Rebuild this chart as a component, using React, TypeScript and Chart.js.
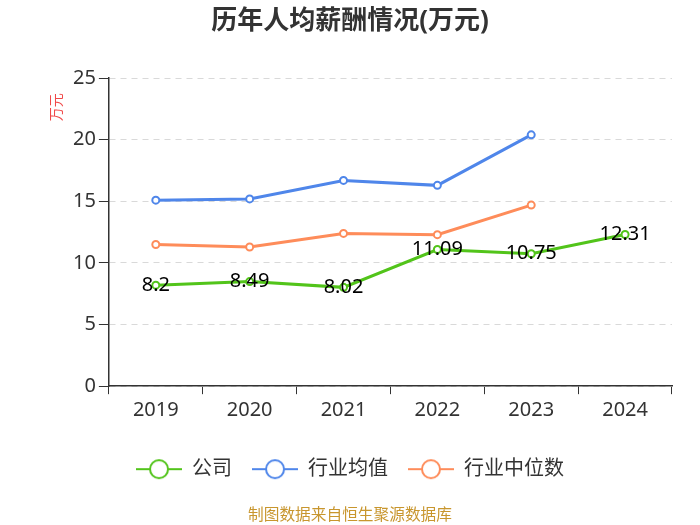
import React, { useEffect, useRef } from 'react';
import Chart from 'chart.js/auto';

const years = ['2019', '2020', '2021', '2022', '2023', '2024'];
const companyPay = [8.2, 8.49, 8.02, 11.09, 10.75, 12.31];
const industryMean = [15.1, 15.2, 16.7, 16.3, 20.4, null];
const industryMedian = [11.5, 11.3, 12.4, 12.3, 14.7, null];
const yTicks = [0, 5, 10, 15, 20, 25];

const FONT = '"Noto Sans", "Noto Sans CJK SC", sans-serif';

// legend marker: short line with hollow circle
const makeMarker = (color: string) => {
    const c = document.createElement('canvas');
    c.width = 46;
    c.height = 22;
    const ctx = c.getContext('2d')!;
    ctx.strokeStyle = color;
    ctx.lineWidth = 2;
    ctx.beginPath();
    ctx.moveTo(0, 11);
    ctx.lineTo(46, 11);
    ctx.stroke();
    ctx.beginPath();
    ctx.arc(23, 11, 9, 0, Math.PI * 2);
    ctx.fillStyle = '#fff';
    ctx.fill();
    ctx.stroke();
    return c;
};

// labels on the company series only, plus the unit label
const valueLabels = {
    id: 'valueLabels',
    afterDatasetsDraw(chart: any) {
        const meta = chart.getDatasetMeta(0);
        const ctx = chart.ctx;
        ctx.save();
        ctx.font = `20px ${FONT}`;
        ctx.fillStyle = '#000';
        ctx.textAlign = 'center';
        ctx.textBaseline = 'middle';
        meta.data.forEach((pt: any, i: number) => {
            ctx.fillText(String(companyPay[i]), pt.x, pt.y);
        });
        // unit title
        ctx.translate(chart.chartArea.left - 52, chart.chartArea.top + 29);
        ctx.rotate(-Math.PI / 2);
        ctx.font = `14px ${FONT}`;
        ctx.fillStyle = '#f04848';
        ctx.fillText('万元', 0, 0);
        ctx.restore();
    }
};

const App: React.FC = () => {
    const canvasRef = useRef<HTMLCanvasElement>(null);
    const chartRef = useRef<Chart>();

    useEffect(() => {
        if (!canvasRef.current) return;
        const ctx = canvasRef.current.getContext('2d');
        if (!ctx) return;
        if (chartRef.current) chartRef.current.destroy();

        const colors = ['#52c41a', '#4f86ea', '#fe8c5a'];

        chartRef.current = new Chart(ctx, {
            type: 'line',
            data: {
                labels: years,
                datasets: [
                    { label: '公司', data: companyPay },
                    { label: '行业均值', data: industryMean },
                    { label: '行业中位数', data: industryMedian }
                ].map((d, i) => ({
                    ...d,
                    borderColor: colors[i],
                    backgroundColor: colors[i],
                    borderWidth: 3,
                    pointRadius: 3.5,
                    pointBorderWidth: 2,
                    pointBackgroundColor: '#fff',
                    pointBorderColor: colors[i],
                    tension: 0
                }))
            },
            plugins: [valueLabels],
            options: {
                animation: false,
                responsive: false,
                layout: { padding: { left: 28, right: 28, top: 0, bottom: 0 } },
                scales: {
                    x: {
                        offset: true,
                        afterFit: (scale: any) => { scale.height += 13; },
                        grid: {
                            offset: true,
                            drawOnChartArea: false,
                            drawTicks: true,
                            tickLength: 8,
                            tickColor: '#333'
                        },
                        border: { color: '#333', width: 1.5 },
                        ticks: { color: '#333', font: { size: 20, family: FONT }, padding: 4 }
                    },
                    y: {
                        min: 0,
                        max: 25,
                        afterFit: (scale: any) => { scale.width += 42; },
                        afterBuildTicks: (axis: any) => {
                            axis.ticks = yTicks.map(v => ({ value: v }));
                        },
                        grid: {
                            color: '#d9d9d9',
                            tickColor: '#333',
                            tickLength: 10,
                            tickBorderDash: [],
                            lineWidth: 1
                        },
                        border: { color: '#333', width: 1.5, dash: [6, 5] },
                        ticks: { color: '#333', font: { size: 20, family: FONT }, padding: 3 }
                    }
                },
                plugins: {
                    title: {
                        display: true,
                        text: '历年人均薪酬情况(万元)',
                        color: '#333',
                        font: { size: 26, weight: 'bold', family: FONT },
                        padding: { top: 6, bottom: 41 }
                    },
                    subtitle: {
                        display: true,
                        position: 'bottom',
                        text: '制图数据来自恒生聚源数据库',
                        color: '#c8962e',
                        font: { size: 15.7, family: FONT },
                        padding: { top: 17, bottom: 0 }
                    },
                    legend: {
                        position: 'bottom',
                        labels: {
                            usePointStyle: true,
                            pointStyleWidth: 46,
                            color: '#333',
                            font: { size: 20, family: FONT },
                            padding: 20,
                            generateLabels: (chart: any) => {
                                const items = Chart.defaults.plugins.legend.labels.generateLabels(chart);
                                return items.map((it: any, i: number) => ({
                                    ...it,
                                    pointStyle: makeMarker(colors[i])
                                }));
                            }
                        }
                    },
                    tooltip: { enabled: false }
                }
            } as any
        });

        return () => {
            if (chartRef.current) chartRef.current.destroy();
        };
    }, []);

    return (
        <div style={{ position: 'fixed', left: 0, top: 0, width: 700, height: 525, background: '#fff' }}>
            <canvas ref={canvasRef} width={700} height={525}></canvas>
        </div>
    );
};

export default App;
